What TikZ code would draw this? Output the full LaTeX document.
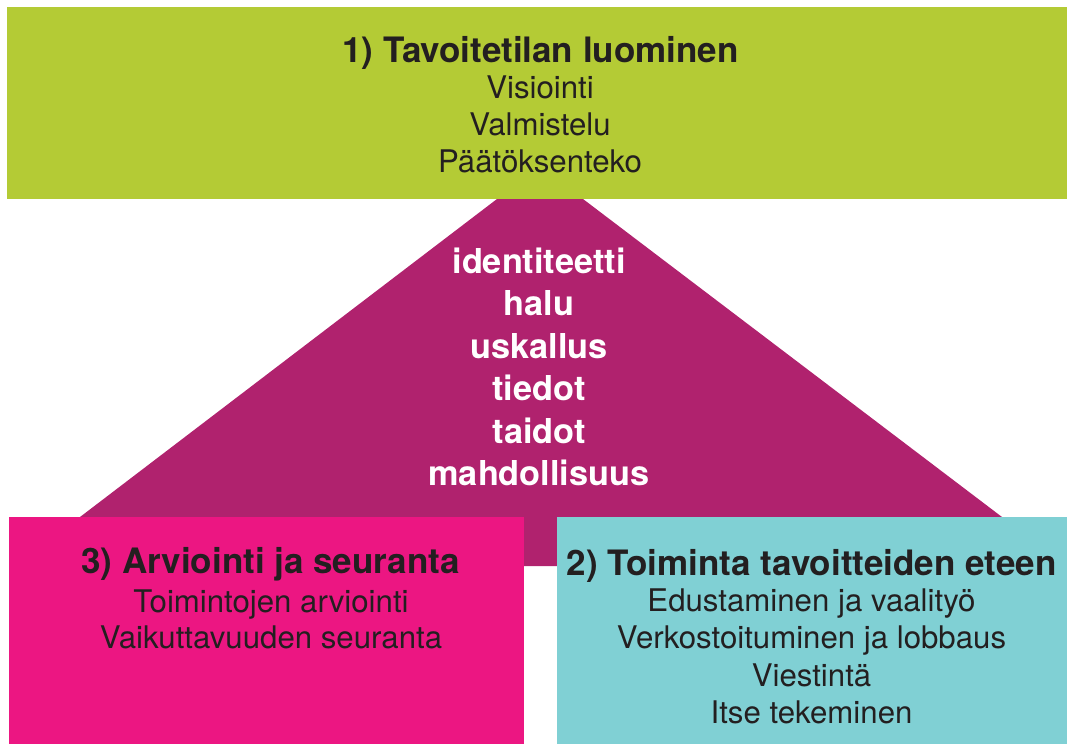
\documentclass[tikz,border=0pt]{standalone}
\usepackage{fontspec}
\setmainfont{TeX Gyre Heros}
\definecolor{limeC}{HTML}{B4CB35}
\definecolor{purpC}{HTML}{B0226E}
\definecolor{pinkC}{HTML}{EC1682}
\definecolor{tealC}{HTML}{80D0D4}
\definecolor{inkC}{HTML}{231F20}
\tikzset{
  panel/.style={inner sep=0pt, outer sep=0pt, draw=none},
  headtxt/.style={anchor=base, inner sep=0pt, text=inkC, font=\fontsize{35}{40}\selectfont\bfseries},
  itemtxt/.style={anchor=base, inner sep=0pt, text=inkC, font=\fontsize{31.2}{36}\selectfont},
  coretxt/.style={anchor=base, inner sep=0pt, text=white, font=\fontsize{34.3}{40}\selectfont\bfseries}
}
\begin{document}
\begin{tikzpicture}[x=1pt,y=-1pt]
\useasboundingbox (0,0) rectangle (1067,744);
% central purple shape
\fill[purpC] (497,199) -- (583,199) -- (1002,517) -- (1002,566) -- (80,566) -- (80,517) -- cycle;
% panels
\node[panel, fill=limeC, minimum width=1060pt, minimum height=192pt] (goal) at (537,103) {};
\node[panel, fill=pinkC, minimum width=515pt, minimum height=227pt] (eval) at (266.5,630.5) {};
\node[panel, fill=tealC, minimum width=510pt, minimum height=227pt] (act) at (812,630.5) {};
% top panel text
\node[headtxt] (g0) at (540.5,62) {1) Tavoitetilan luominen};
\node[itemtxt] (g1) at (540,98) {Visiointi};
\node[itemtxt] (g2) at (540,135) {Valmistelu};
\node[itemtxt] (g3) at (540,172) {Päätöksenteko};
% core text
\node[coretxt] (c1) at (539,273) {identiteetti};
\node[coretxt] (c2) at (539,315) {halu};
\node[coretxt] (c3) at (539,358) {uskallus};
\node[coretxt] (c4) at (539,400) {tiedot};
\node[coretxt] (c5) at (539,443) {taidot};
\node[coretxt] (c6) at (539,485) {mahdollisuus};
% left panel text
\node[headtxt] (e0) at (270.5,573) {3) Arviointi ja seuranta};
\node[itemtxt] (e1) at (271,612) {Toimintojen arviointi};
\node[itemtxt] (e2) at (271,648) {Vaikuttavuuden seuranta};
% right panel text
\node[headtxt] (a0) at (811.5,575) {2) Toiminta tavoitteiden eteen};
\node[itemtxt] (a1) at (811.5,611) {Edustaminen ja vaalityö};
\node[itemtxt] (a2) at (811.5,648) {Verkostoituminen ja lobbaus};
\node[itemtxt] (a3) at (811.5,686) {Viestintä};
\node[itemtxt] (a4) at (811.5,723) {Itse tekeminen};
\end{tikzpicture}
\end{document}
